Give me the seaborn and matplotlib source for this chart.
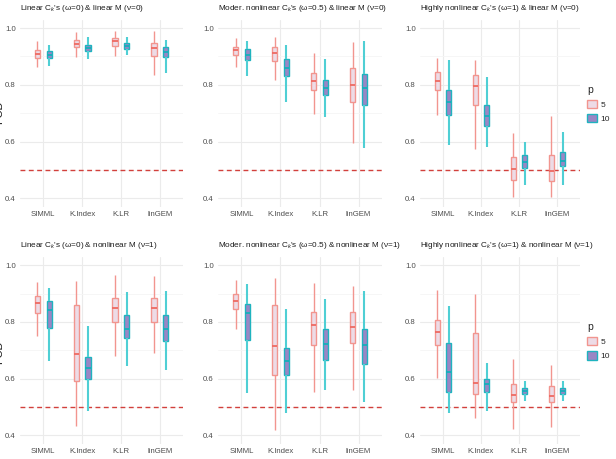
import numpy as np
import pandas as pd
import matplotlib
matplotlib.use('Agg')
import matplotlib.pyplot as plt
from matplotlib.patches import Patch
from matplotlib.ticker import FixedLocator
import seaborn as sns

methods = ['SIMML', 'K.Index', 'K.LR', 'linGEM']
p_levels = ['5', '10']

titles = [
    r"Linear C$_k$'s (ω=0) & linear M (ν=0)",
    r"Moder. nonlinear C$_k$'s (ω=0.5) & linear M (ν=0)",
    r"Highly nonlinear C$_k$'s (ω=1) & linear M (ν=0)",
    r"Linear C$_k$'s (ω=0) & nonlinear M (ν=1)",
    r"Moder. nonlinear C$_k$'s (ω=0.5) & nonlinear M (ν=1)",
    r"Highly nonlinear C$_k$'s (ω=1) & nonlinear M (ν=1)",
]

# five-number summaries: whisker low, Q1, median, Q3, whisker high
lin_lin_p5 = [[0.862, 0.896, 0.910, 0.921, 0.953],
              [0.898, 0.932, 0.944, 0.959, 0.986],
              [0.902, 0.938, 0.955, 0.965, 0.988],
              [0.835, 0.900, 0.928, 0.947, 0.988]]
lin_lin_p10 = [[0.865, 0.894, 0.906, 0.918, 0.941],
               [0.891, 0.918, 0.929, 0.941, 0.968],
               [0.906, 0.927, 0.937, 0.947, 0.967],
               [0.843, 0.898, 0.917, 0.933, 0.959]]

mod_lin_p5 = [[0.862, 0.904, 0.921, 0.933, 0.965],
              [0.818, 0.885, 0.912, 0.933, 0.968],
              [0.696, 0.782, 0.812, 0.841, 0.912],
              [0.596, 0.741, 0.800, 0.859, 0.949]]
mod_lin_p10 = [[0.832, 0.888, 0.906, 0.926, 0.955],
               [0.741, 0.832, 0.860, 0.892, 0.941],
               [0.686, 0.765, 0.790, 0.818, 0.892],
               [0.576, 0.729, 0.790, 0.839, 0.956]]

high_lin_p5 = [[0.694, 0.781, 0.815, 0.844, 0.894],
               [0.574, 0.728, 0.795, 0.834, 0.888],
               [0.406, 0.465, 0.503, 0.545, 0.629],
               [0.406, 0.461, 0.497, 0.554, 0.690]]
high_lin_p10 = [[0.586, 0.694, 0.740, 0.782, 0.888],
                [0.582, 0.655, 0.689, 0.728, 0.826],
                [0.447, 0.506, 0.529, 0.552, 0.600],
                [0.445, 0.512, 0.533, 0.564, 0.634]]

lin_non_p5 = [[0.751, 0.831, 0.866, 0.892, 0.941],
              [0.435, 0.591, 0.686, 0.859, 0.945],
              [0.681, 0.801, 0.849, 0.883, 0.966],
              [0.690, 0.801, 0.849, 0.883, 0.962]]
lin_non_p10 = [[0.661, 0.780, 0.842, 0.873, 0.921],
               [0.488, 0.599, 0.637, 0.678, 0.787],
               [0.646, 0.742, 0.777, 0.824, 0.904],
               [0.632, 0.732, 0.777, 0.824, 0.910]]

mod_non_p5 = [[0.774, 0.845, 0.873, 0.898, 0.949],
              [0.421, 0.614, 0.714, 0.861, 0.955],
              [0.553, 0.720, 0.788, 0.835, 0.939],
              [0.562, 0.726, 0.782, 0.835, 0.927]]
mod_non_p10 = [[0.549, 0.738, 0.833, 0.865, 0.935],
               [0.479, 0.612, 0.661, 0.708, 0.847],
               [0.562, 0.665, 0.724, 0.776, 0.882],
               [0.518, 0.653, 0.718, 0.776, 0.908]]

high_non_p5 = [[0.601, 0.719, 0.763, 0.808, 0.912],
               [0.462, 0.546, 0.584, 0.761, 0.898],
               [0.423, 0.517, 0.543, 0.580, 0.669],
               [0.429, 0.517, 0.540, 0.576, 0.648]]
high_non_p10 = [[0.479, 0.552, 0.625, 0.725, 0.857],
                [0.488, 0.552, 0.580, 0.599, 0.655],
                [0.521, 0.547, 0.557, 0.566, 0.591],
                [0.521, 0.547, 0.557, 0.566, 0.591]]

panels = [(lin_lin_p5, lin_lin_p10), (mod_lin_p5, mod_lin_p10), (high_lin_p5, high_lin_p10),
          (lin_non_p5, lin_non_p10), (mod_non_p5, mod_non_p10), (high_non_p5, high_non_p10)]

rows = []
for k, pair in enumerate(panels):
    for p, summ in zip(p_levels, pair):
        for m, vals in zip(methods, summ):
            for v in vals:
                rows.append({'panel': k, 'method': m, 'p': p, 'PCD': v})
df = pd.DataFrame(rows)

fill_colors = {'5': '#EDDBE6', '10': '#9A86C4'}
edge_colors = {'5': '#F2958F', '10': '#1FB3BF'}
whisk_colors = {'5': '#F2958F', '10': '#4FCFD4'}
median_colors = {'5': '#EE6A62', '10': '#17AEBB'}
whisk_lw = {'5': 1.0, '10': 1.5}

sns.set_theme(style='white')
plt.rcParams['font.family'] = ['Liberation Sans', 'DejaVu Sans']
plt.rcParams['mathtext.fontset'] = 'custom'
plt.rcParams['mathtext.rm'] = 'Liberation Sans'
plt.rcParams['mathtext.it'] = 'Liberation Sans:italic'

fig = plt.figure(figsize=(6.16, 4.59), dpi=100)

lefts = [0.0325, 0.3539, 0.6818]
widths = [0.2646, 0.2662, 0.2597]
bottoms = [0.5495, 0.0327]
height = 0.408

for k in range(6):
    r, c = divmod(k, 3)
    ax = fig.add_axes([lefts[c], bottoms[r], widths[c], height])
    sub = df[df.panel == k]
    for p in p_levels:
        sns.boxplot(data=sub[sub.p == p], x='method', y='PCD', hue='p',
                    hue_order=p_levels, order=methods, palette=fill_colors,
                    saturation=1, width=0.6, gap=0.55, dodge=True, whis=(0, 100),
                    showcaps=False, linecolor=edge_colors[p], linewidth=1.0,
                    whiskerprops={'linewidth': whisk_lw[p], 'color': whisk_colors[p]},
                    medianprops={'color': median_colors[p], 'linewidth': 1.3},
                    legend=False, ax=ax)

    ax.axhline(0.5, color='#D2403C', ls=(0, (3.5, 2.5)), lw=1.0, zorder=1)

    ax.set_xlim(-0.6, 3.6)
    ax.set_ylim(0.37, 1.03)
    ax.set_yticks([0.4, 0.6, 0.8, 1.0])
    ax.set_yticklabels(['0.4', '0.6', '0.8', '1.0'])
    ax.yaxis.set_minor_locator(FixedLocator([0.5, 0.7, 0.9]))
    ax.grid(True, which='major', axis='both', color='#EBEBEB', lw=0.8, zorder=0)
    ax.grid(True, which='minor', axis='y', color='#F5F5F5', lw=0.6, zorder=0)
    ax.set_axisbelow(True)
    ax.tick_params(which='both', length=0, labelsize=5.6, colors='#4D4D4D', pad=3)
    ax.set_xlabel('')
    ax.set_ylabel('')
    sns.despine(ax=ax, left=True, bottom=True)
    ax.set_title(titles[k], loc='left', fontsize=5.9, pad=7, color='#1A1A1A')

    if c == 2:
        handles = [Patch(facecolor=fill_colors[p], edgecolor=edge_colors[p], lw=1.0) for p in p_levels]
        leg = ax.legend(handles, p_levels, title='p', loc='center left',
                        bbox_to_anchor=(1.0, 0.55), frameon=False, fontsize=6,
                        title_fontsize=7.5, handlelength=1.2, handleheight=1.2,
                        handletextpad=0.4, labelspacing=0.6)
        leg._legend_box.align = 'left'

# the y label sits mostly outside the left edge, as in the original export
for yc in [112, 352]:
    fig.text(4 / 616, 1 - yc / 459, 'PCD', rotation=90, ha='right', va='center',
             fontsize=8, color='#1A1A1A')

fig.savefig('out.png', dpi=100)
